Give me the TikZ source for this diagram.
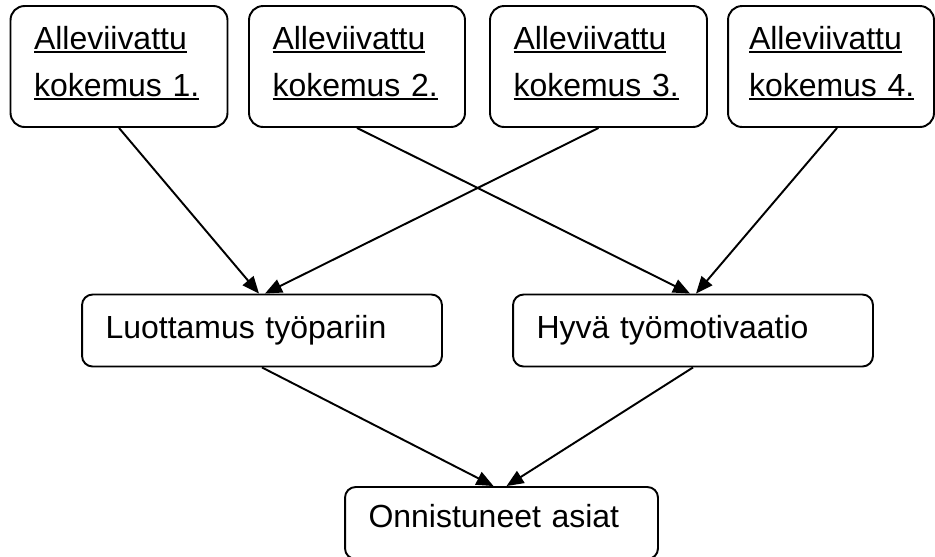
\documentclass[tikz,border=0pt]{standalone}
\usepackage{fontspec}
\setmainfont{Liberation Sans}
\usetikzlibrary{arrows.meta, calc}
\newsavebox{\viivalaatikko}
\newcommand{\viiva}[1]{\leavevmode\sbox{\viivalaatikko}{#1}\rlap{\rule[-2.2pt]{\wd\viivalaatikko}{1.3pt}}\usebox{\viivalaatikko}}
\newcommand{\alaviiva}{\rule[-5.8pt]{0pt}{5.8pt}}

\begin{document}
\begin{tikzpicture}[x=0.02cm, y=-0.02cm, line width=1.1pt,
  laatikko/.style={draw, rounded corners=6pt, align=left, inner xsep=0.47cm, inner ysep=0pt, font=\fontsize{18.2}{26.7}\selectfont},
  kokemus/.style={laatikko, rounded corners=8pt, minimum height=2.42cm},
  tulos/.style={laatikko, minimum height=1.44cm},
  nuoli/.style={-{Triangle[length=0.34cm, width=0.28cm]}}]
  \useasboundingbox (0, 0) rectangle (935, 556);
  \clip (0, 0) rectangle (935, 556);

  % kokemukset
  \node[kokemus, text width=3.4cm] (k1) at (119, 66.5) {\viiva{Alleviivattu}\\\viiva{kokemus 1.}\alaviiva};
  \node[kokemus, text width=3.38cm] (k2) at (357, 66.5) {\viiva{Alleviivattu}\\\viiva{kokemus 2.}\alaviiva};
  \node[kokemus, text width=3.4cm] (k3) at (598.5, 66.5) {\viiva{Alleviivattu}\\\viiva{kokemus 3.}\alaviiva};
  \node[kokemus, inner xsep=0.42cm, text width=3.28cm] (k4) at (831, 66.5) {\viiva{Alleviivattu}\\\viiva{kokemus 4.}\alaviiva};

  % tulokset
  \node[tulos, text width=6.26cm] (luot) at (262, 330.5) {Luottamus työpariin};
  \node[tulos, text width=6.26cm] (hyva) at (693, 330.5) {Hyvä työmotivaatio};
  \node[tulos, text width=5.32cm, text depth=8.5pt] (onni) at (501.5, 523) {Onnistuneet asiat};

  \draw[nuoli] (k1.south) -- ($(luot.north)+(-3, 0)$);
  \draw[nuoli] (k3.south) -- ($(luot.north)+(3, 0)$);
  \draw[nuoli] (k2.south) -- ($(hyva.north)+(-3, 0)$);
  \draw[nuoli] ($(k4.south)+(6, 0)$) -- ($(hyva.north)+(3, 0)$);
  \draw[nuoli] (luot.south) -- ($(onni.north)+(-8, 0)$);
  \draw[nuoli] (hyva.south) -- ($(onni.north)+(5, 0)$);
\end{tikzpicture}
\end{document}
